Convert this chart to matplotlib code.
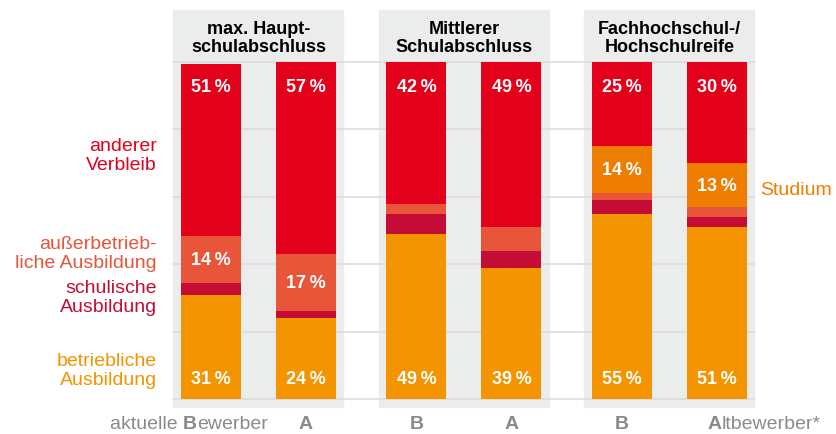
import matplotlib
matplotlib.use('Agg')
import matplotlib.pyplot as plt
from matplotlib.patches import Rectangle
import numpy as np

plt.rcParams['font.family'] = ['Liberation Sans', 'DejaVu Sans']

# data (percent), B = aktuelle Bewerber, A = Altbewerber
groups = ['max. Haupt-\nschulabschluss', 'Mittlerer\nSchulabschluss', 'Fachhochschul-/\nHochschulreife']
betrieblich_B = [31, 49, 55]
betrieblich_A = [24, 39, 51]
schulisch_B = [3.5, 6, 4]
schulisch_A = [2, 5, 3]
ausserbetr_B = [14, 3, 2]
ausserbetr_A = [17, 7, 3]
studium_B = [0, 0, 14]
studium_A = [0, 0, 13]
anderer_B = [51, 42, 25]
anderer_A = [57, 49, 30]

red = '#E3001B'
coral = '#E85538'
crimson = '#C50C35'
orange = '#F39400'
stud_orange = '#EF7D00'
panel = '#EBECEC'
grey_txt = '#8A8A8A'

# figure in pixel-like x units, percent on y
fig = plt.figure(figsize=(8.37, 4.35), dpi=100)
ax = fig.add_axes([0, 35/435, 1, 337/435])
ax.set_xlim(0, 837)
ax.set_ylim(0, 100)
ax.axis('off')

gx = 258.5 + 205.5*np.arange(3)
off = 47.5
bw = 60

# grey panels behind each group
for c in gx:
    ax.add_patch(Rectangle((c-85, -2.4), 170, 117.8, color=panel, zorder=0, clip_on=False))
# gridlines
for v in range(0, 101, 20):
    ax.plot([gx[0]-85, gx[-1]+85], [v, v], color='#dcdcdc', lw=1.2, zorder=1, clip_on=False)

segs_B = [betrieblich_B, schulisch_B, ausserbetr_B, studium_B, anderer_B]
segs_A = [betrieblich_A, schulisch_A, ausserbetr_A, studium_A, anderer_A]
cols = [orange, crimson, coral, stud_orange, red]

def pct(v):
    return f'{v:g}\u2009%'

for segs, sign in [(segs_B, -1), (segs_A, 1)]:
    xs = gx + sign*off
    bottom = np.zeros(3)
    for k, (vals, col) in enumerate(zip(segs, cols)):
        vals = np.array(vals, dtype=float)
        ax.bar(xs, vals, bw, bottom=bottom, color=col, zorder=2, linewidth=0)
        for x, b, v in zip(xs, bottom, vals):
            if v < 10:
                continue
            if k == 0:
                y = 6
            elif k == len(segs) - 1:
                y = 100 - 7.2
            else:
                y = b + v/2
            ax.text(x, y, pct(v), ha='center', va='center', color='white',
                    fontsize=13, fontweight='bold', zorder=3)
        bottom += vals

# group titles
for c, g in zip(gx, groups):
    ax.text(c, 107.2, g, ha='center', va='center', fontsize=13, fontweight='bold',
            color='black', linespacing=1.1, clip_on=False)

# left legend labels
fs = 14
left = [('anderer\nVerbleib', 72.4, red),
        ('außerbetrieb-\nliche Ausbildung', 43.3, coral),
        ('schulische\nAusbildung', 30.3, crimson),
        ('betriebliche\nAusbildung', 8.6, orange)]
for txt, y, col in left:
    ax.text(157, y, txt, ha='right', va='center', color=col, fontsize=fs, linespacing=1.1)
ax.text(760, 62.3, 'Studium', ha='left', va='center', color=stud_orange, fontsize=fs)

# bottom labels
yb = -7.4
t = ax.text(110, yb, 'aktuelle ', ha='left', va='center', color=grey_txt, fontsize=fs, clip_on=False)
t = ax.annotate('B', xy=(1, 0), xycoords=t, ha='left', va='bottom', color=grey_txt,
                fontsize=fs, fontweight='bold')
ax.annotate('ewerber', xy=(1, 0), xycoords=t, ha='left', va='bottom', color=grey_txt, fontsize=fs)
for i, c in enumerate(gx):
    if i > 0:
        ax.text(c - off, yb, 'B', ha='center', va='center', color=grey_txt, fontsize=fs,
                fontweight='bold', clip_on=False)
    if i < 2:
        ax.text(c + off, yb, 'A', ha='center', va='center', color=grey_txt, fontsize=fs,
                fontweight='bold', clip_on=False)
t = ax.text(708, yb, 'A', ha='left', va='center', color=grey_txt, fontsize=fs,
            fontweight='bold', clip_on=False)
ax.annotate('ltbewerber*', xy=(1, 0), xycoords=t, ha='left', va='bottom', color=grey_txt, fontsize=fs)

fig.savefig('out.png', dpi=100)
